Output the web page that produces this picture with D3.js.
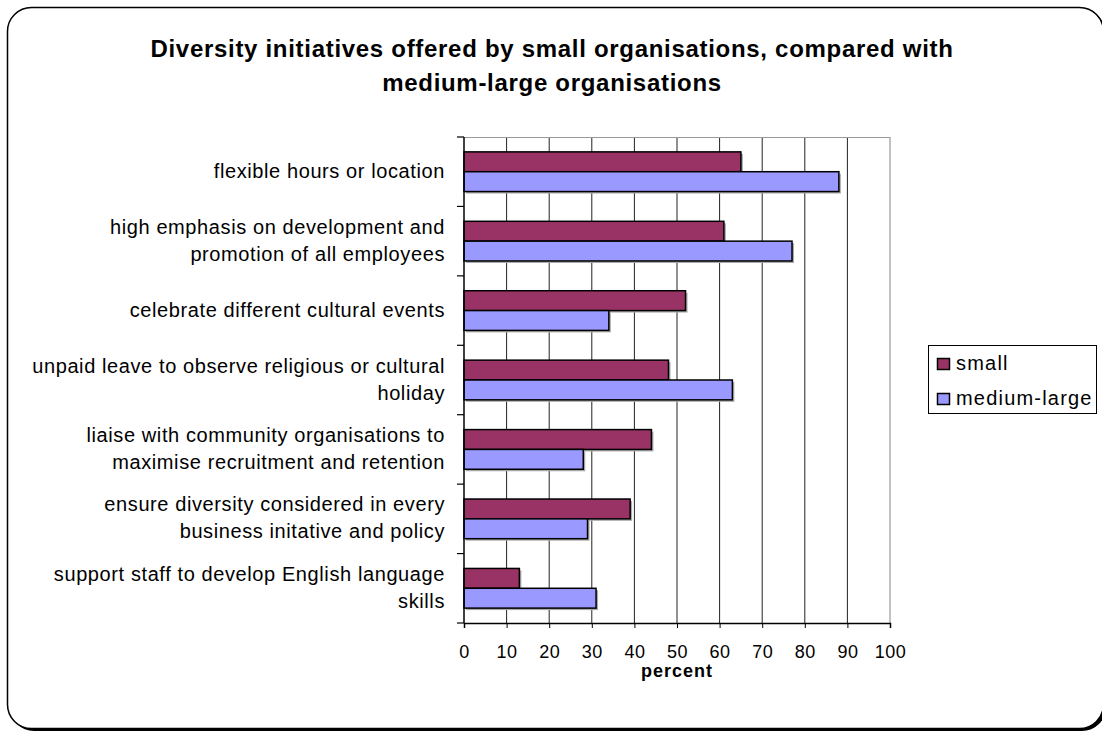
<!DOCTYPE html>
<html>
<head>
<meta charset="utf-8">
<script src="https://cdn.jsdelivr.net/npm/d3@7"></script>
<style>
  html, body { margin: 0; padding: 0; background: #fff; }
  svg { display: block; }
  text { font-family: "Liberation Sans", Arial, sans-serif; fill: #000; }
</style>
</head>
<body>
<svg id="chart" width="1102" height="731"></svg>
<script>
// Initiatives (line breaks mark where each label wraps)
const categories = [
  "flexible hours or location",
  "high emphasis on development and\npromotion of all employees",
  "celebrate different cultural events",
  "unpaid leave to observe religious or cultural\nholiday",
  "liaise with community organisations to\nmaximise recruitment and retention",
  "ensure diversity considered in every\nbusiness initative and policy",
  "support staff to develop English language\nskills"
];
const seriesNames = ["small", "medium-large"];
const smallValues = [65, 61, 52, 48, 44, 39, 13];
const mediumLargeValues = [88, 77, 34, 63, 28, 29, 31];
const xTicks = [0, 10, 20, 30, 40, 50, 60, 70, 80, 90, 100];
const seriesColors = ["#993366", "#9999FF"];
const titleLines = [
  "Diversity initiatives offered by small organisations, compared with",
  "medium-large organisations"
];
const xTitle = "percent";

const svg = d3.select("#chart");

// Outer frame with a drop shadow at the lower right
svg.append("rect")
  .attr("x", 10).attr("y", 10).attr("width", 1096).attr("height", 721)
  .attr("rx", 24).attr("ry", 24).attr("fill", "#000");
svg.append("rect")
  .attr("x", 7.5).attr("y", 7.5).attr("width", 1096).attr("height", 721)
  .attr("rx", 24).attr("ry", 24)
  .attr("fill", "#fff").attr("stroke", "#000").attr("stroke-width", 1.5);

// Title
svg.append("text")
  .attr("x", 552).attr("y", 57)
  .attr("text-anchor", "middle")
  .style("font-size", "24px").style("font-weight", "bold")
  .style("letter-spacing", "0.7px")
  .selectAll("tspan").data(titleLines).join("tspan")
  .attr("x", 552).attr("dy", (d, i) => i === 0 ? 0 : 34)
  .text(d => d);

// Scales
const x = d3.scaleLinear().domain([0, 100]).range([464, 890]);
const y = d3.scaleBand().domain(categories).range([137, 623]).padding(0);
const ySub = d3.scaleBand().domain(seriesNames).range([0, y.bandwidth()])
  .paddingInner(0).paddingOuter(0.75);

const plot = svg.append("g");

// Vertical gridlines
plot.selectAll("line.grid").data(xTicks.filter(t => t > 0 && t < 100)).join("line")
  .attr("class", "grid")
  .attr("x1", d => x(d)).attr("x2", d => x(d))
  .attr("y1", 137).attr("y2", 623)
  .attr("stroke", "#222").attr("stroke-width", 1);

// Plot frame (top and right in grey)
plot.append("path")
  .attr("d", `M${x(0)},137.5H${x(100)}V623`)
  .attr("fill", "none").attr("stroke", "#999").attr("stroke-width", 1.2);

// Bars
const rows = categories.map((c, i) => ({
  cat: c,
  vals: [
    { s: seriesNames[0], v: smallValues[i] },
    { s: seriesNames[1], v: mediumLargeValues[i] }
  ]
}));
const color = d3.scaleOrdinal().domain(seriesNames).range(seriesColors);

const groups = plot.selectAll("g.row").data(rows).join("g")
  .attr("class", "row")
  .attr("transform", d => `translate(0,${y(d.cat)})`);

// soft shadow behind each bar
groups.selectAll("rect.shadow").data(d => d.vals).join("rect")
  .attr("class", "shadow")
  .attr("x", x(0) + 2)
  .attr("y", d => ySub(d.s) + 2)
  .attr("width", d => x(d.v) - x(0))
  .attr("height", ySub.bandwidth())
  .attr("fill", "#aaa");

groups.selectAll("rect.bar").data(d => d.vals).join("rect")
  .attr("class", "bar")
  .attr("x", x(0))
  .attr("y", d => ySub(d.s))
  .attr("width", d => x(d.v) - x(0))
  .attr("height", ySub.bandwidth())
  .attr("fill", d => color(d.s))
  .attr("stroke", "#000").attr("stroke-width", 1.5);

// X axis
const xAxis = d3.axisBottom(x).tickValues(xTicks).tickSize(5).tickPadding(17);
const gx = svg.append("g").attr("transform", "translate(0,623)").call(xAxis);
gx.select(".domain").attr("stroke", "#000").attr("stroke-width", 1.5);
gx.selectAll(".tick line").attr("stroke", "#000");
gx.selectAll(".tick text")
  .style("font-family", "'Liberation Sans', Arial, sans-serif")
  .style("font-size", "18px").style("letter-spacing", "0.5px")
  .attr("fill", "#000");

// Y axis: ticks on band boundaries, labels right-aligned
const gy = svg.append("g");
gy.append("line")
  .attr("x1", x(0)).attr("x2", x(0)).attr("y1", 137).attr("y2", 623)
  .attr("stroke", "#000").attr("stroke-width", 1.5);
const bounds = categories.map(c => y(c)).concat([y.range()[1]]);
gy.selectAll("line.tick").data(bounds).join("line")
  .attr("class", "tick")
  .attr("x1", x(0) - 7).attr("x2", x(0))
  .attr("y1", d => d).attr("y2", d => d)
  .attr("stroke", "#000").attr("stroke-width", 1.2);

const lineH = 27;
gy.selectAll("text.cat").data(categories).join("text")
  .attr("class", "cat")
  .attr("text-anchor", "end")
  .style("font-size", "20px")
  .style("letter-spacing", "0.6px")
  .each(function (d) {
    const lines = d.split("\n");
    const cy = y(d) + y.bandwidth() / 2;
    const first = cy + 6 - (lines.length - 1) * lineH / 2;
    d3.select(this).selectAll("tspan").data(lines).join("tspan")
      .attr("x", 445).attr("y", (l, i) => first + i * lineH)
      .text(l => l);
  });

// X axis title
svg.append("text")
  .attr("x", x(50)).attr("y", 677)
  .attr("text-anchor", "middle")
  .style("font-size", "18px").style("font-weight", "bold")
  .style("letter-spacing", "1px")
  .text(xTitle);

// Legend
const legend = svg.append("g");
legend.append("rect")
  .attr("x", 928.5).attr("y", 345.5).attr("width", 168).attr("height", 68)
  .attr("fill", "#fff").attr("stroke", "#000").attr("stroke-width", 1);
const li = legend.selectAll("g.item").data(seriesNames).join("g")
  .attr("class", "item")
  .attr("transform", (d, i) => `translate(0,${i * 35})`);
li.append("rect")
  .attr("x", 937.5).attr("y", 358.5).attr("width", 12).attr("height", 11)
  .attr("fill", d => color(d)).attr("stroke", "#000").attr("stroke-width", 1.5);
li.append("text")
  .attr("x", 956).attr("y", 370)
  .style("font-size", "20px").style("letter-spacing", "1.2px")
  .text(d => d);
</script>
</body>
</html>
